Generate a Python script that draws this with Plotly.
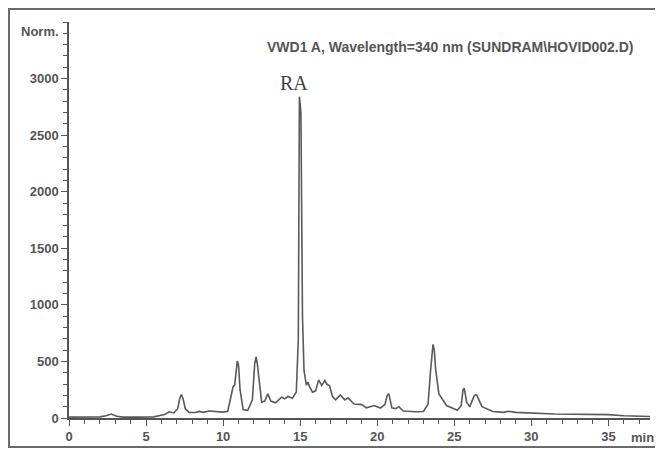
import plotly.graph_objects as go

# Retention time (min) and detector signal (Norm.)
time_min = [0.0, 1.0, 2.0, 2.4, 2.75, 3.1, 3.5, 4.5, 5.5, 6.2, 6.5, 6.8, 7.05, 7.2, 7.3, 7.4, 7.55, 7.8,
            8.2, 8.45, 8.7, 9.1, 9.5, 10.0, 10.3, 10.5, 10.65, 10.75, 10.85, 10.92, 11.0, 11.1, 11.3, 11.6,
            11.9, 12.05, 12.14, 12.22, 12.3, 12.5, 12.7, 12.9, 13.1, 13.4, 13.8, 14.0, 14.2, 14.5, 14.75,
            14.88, 14.95, 15.05, 15.15, 15.25, 15.4, 15.5, 15.6, 15.8, 16.0, 16.2, 16.4, 16.6,
            16.75, 16.9, 17.1, 17.3, 17.6, 17.9, 18.1, 18.5, 19.0, 19.3, 19.8, 20.2, 20.5, 20.65, 20.75,
            20.95, 21.2, 21.4, 21.7, 22.5, 23.0, 23.3, 23.45, 23.55, 23.62, 23.7, 23.8, 24.0, 24.5, 25.2, 25.45,
            25.57, 25.65, 25.8, 26.0, 26.3, 26.45, 26.8, 27.5, 28.2, 28.5, 29.0, 30.0, 31.5, 35.0, 36.0, 38.0]
signal = [8, 8, 10, 20, 35, 15, 8, 8, 10, 30, 55, 45, 80, 180, 207, 170, 80, 50,
          48, 58, 50, 62, 55, 52, 60, 170, 278, 290, 430, 503, 470, 250, 75, 68,
          160, 480, 539, 480, 380, 140, 150, 213, 150, 135, 184, 170, 190, 175, 230,
          700, 2840, 2700, 900, 420, 290, 317, 280, 228, 240, 337, 287, 331,
          296, 287, 190, 160, 204, 160, 178, 124, 118, 90, 110, 88, 120, 200, 215,
          90, 82, 100, 62, 55, 58, 124, 400, 600, 651, 600, 420, 213, 110, 68, 110,
          250, 262, 140, 98, 200, 205, 100, 58, 50, 60, 50, 42, 35, 30, 20, 12]

x_ticks = [0, 5, 10, 15, 20, 25, 30, 35]
y_ticks = [0, 500, 1000, 1500, 2000, 2500, 3000]

grey = "#555555"
fam = "Liberation Sans, Arial"
tick_font = dict(family=fam, size=13, color=grey)

fig = go.Figure(go.Scatter(x=time_min, y=signal, mode="lines",
                           line=dict(color="#5a5a5a", width=1.6), hoverinfo="skip"))

# The page body has an 8 px margin, so the figure starts at (8, 8) in the window
fig.update_layout(
    width=655, height=443,
    margin=dict(l=61, r=13, t=14, b=33),
    paper_bgcolor="white", plot_bgcolor="white",
    showlegend=False,
    font=dict(family=fam, size=12, color=grey),
    xaxis=dict(range=[0, 37.7], tickvals=x_ticks,
               ticktext=[f"<b>{v}</b>" for v in x_ticks],
               showgrid=False, zeroline=False, automargin=False,
               showline=True, linecolor=grey, linewidth=1.5,
               ticks="outside", ticklen=6, tickcolor=grey, tickwidth=1.2,
               minor=dict(dtick=1, ticks="outside", ticklen=4, tickcolor=grey),
               tickfont=tick_font),
    yaxis=dict(range=[0, 3500], tickvals=y_ticks,
               ticktext=[f"<b>{v}</b>" for v in y_ticks],
               showgrid=False, zeroline=False, automargin=False,
               showline=True, linecolor=grey, linewidth=1.5,
               ticks="outside", ticklen=6, tickcolor=grey, tickwidth=1.2,
               minor=dict(dtick=100, ticks="outside", ticklen=4, tickcolor=grey),
               tickfont=tick_font),
)

fig.add_shape(type="rect", xref="paper", yref="paper",
              x0=-0.1033, x1=1.06, y0=-0.0732, y1=1.0328,
              line=dict(color="#6a6a6a", width=2), fillcolor="rgba(0,0,0,0)")

fig.add_annotation(text="<b>Norm.</b>", xref="paper", yref="paper", x=0, y=0.977,
                   xanchor="right", yanchor="middle", xshift=-8, showarrow=False,
                   font=dict(family=fam, size=13, color=grey))
fig.add_annotation(text="<b>VWD1 A, Wavelength=340 nm (SUNDRAM\\HOVID002.D)</b>",
                   xref="paper", yref="paper", x=0.657, y=0.937,
                   xanchor="center", yanchor="middle", showarrow=False,
                   font=dict(family=fam, size=14, color=grey))
fig.add_annotation(text="<b>min</b>", xref="paper", yref="paper", x=1.0, y=0,
                   xanchor="right", yanchor="top", xshift=6, yshift=-10, showarrow=False,
                   font=dict(family=fam, size=13, color=grey))
fig.add_annotation(text="RA", x=14.6, y=2960, xanchor="center", yanchor="middle",
                   showarrow=False,
                   font=dict(family="Liberation Serif, DejaVu Serif", size=20, color="#444444"))

fig.write_html("out.html")
